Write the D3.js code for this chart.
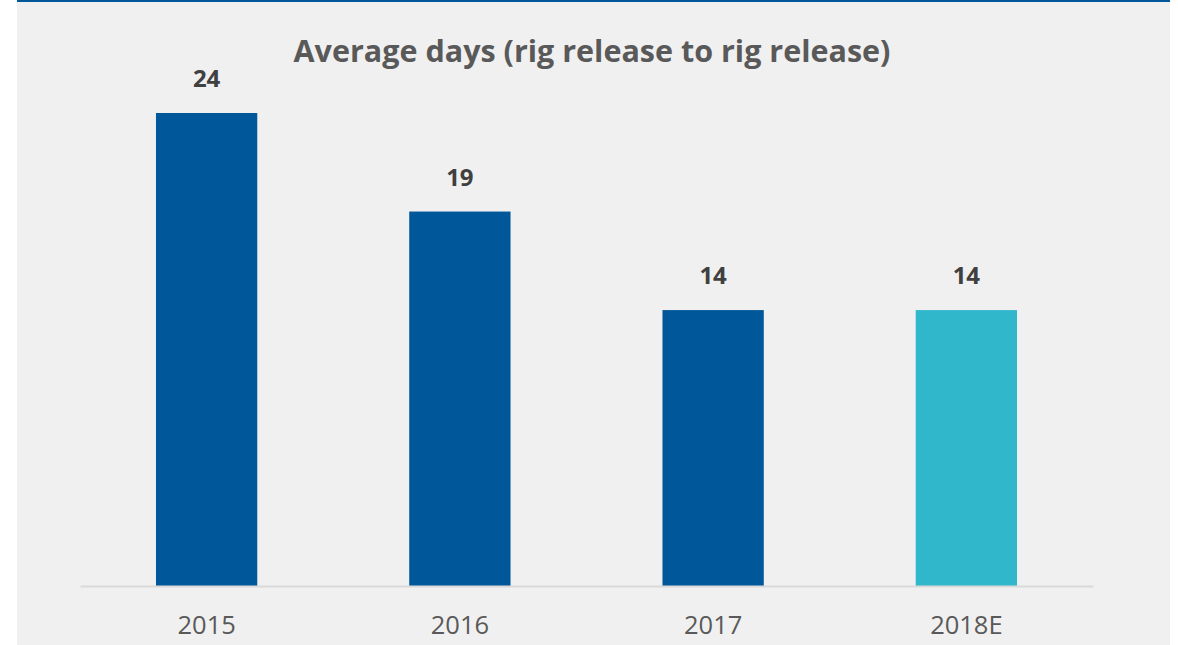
<!DOCTYPE html>
<html>
<head>
<meta charset="utf-8">
<script src="https://cdn.jsdelivr.net/npm/d3@7"></script>
<style>
  body { margin: 0; background: #ffffff; }
  svg { display: block; }
</style>
</head>
<body>
<div class="chart"></div>
<script>
/** chart data */
const years = ['2015', '2016', '2017', '2018E'];
const avgDays = [24, 19, 14, 14];
const barColors = ['#00579a', '#00579a', '#00579a', '#31b7cb'];
const chartTitle = 'Average days (rig release to rig release)';

/** canvas */
let width = 1178, height = 645;
let svg = d3.select('.chart').append('svg')
    .attr('width', width)
    .attr('height', height);

// grey panel with blue rule on top
svg.append('rect')
    .attr('x', 17).attr('y', 0)
    .attr('width', 1153).attr('height', height)
    .attr('fill', '#f0f0f0');
svg.append('rect')
    .attr('x', 17).attr('y', 0)
    .attr('width', 1153).attr('height', 2)
    .attr('fill', '#00579a');

let baseY = 586;

let x = d3.scaleBand()
    .domain(years)
    .range([80, 1093])
    .paddingInner(0.6)
    .paddingOuter(0.3);

let y = d3.scaleLinear()
    .domain([0, 24])
    .range([baseY, 113]);

/** bars */
svg.selectAll('.bar')
    .data(avgDays)
    .enter()
    .append('rect')
    .attr('class', 'bar')
    .attr('x', (d, i) => x(years[i]))
    .attr('y', d => y(d))
    .attr('width', x.bandwidth())
    .attr('height', d => baseY - y(d))
    .attr('fill', (d, i) => barColors[i]);

/** value labels */
svg.selectAll('.val')
    .data(avgDays)
    .enter()
    .append('text')
    .attr('class', 'val')
    .attr('x', (d, i) => x(years[i]) + x.bandwidth() / 2)
    .attr('y', d => y(d) - 26)
    .attr('text-anchor', 'middle')
    .style('font-family', 'Open Sans')
    .style('font-weight', 'bold')
    .style('font-size', '24px')
    .attr('fill', '#404040')
    .text(d => d);

/** x axis */
let xAxis = svg.append('g')
    .attr('transform', `translate(0, ${baseY})`)
    .call(d3.axisBottom(x).tickSize(0).tickPadding(30));
xAxis.select('.domain')
    .attr('stroke', '#d9d9d9')
    .attr('stroke-width', 2);
xAxis.selectAll('text')
    .style('font-family', 'Open Sans')
    .style('font-size', '25.5px')
    .attr('fill', '#595959');

/** title */
svg.append('text')
    .attr('x', 592)
    .attr('y', 62)
    .attr('text-anchor', 'middle')
    .style('font-family', 'Open Sans')
    .style('font-weight', 'bold')
    .style('font-size', '30.5px')
    .attr('fill', '#595959')
    .text(chartTitle);
</script>
</body>
</html>
